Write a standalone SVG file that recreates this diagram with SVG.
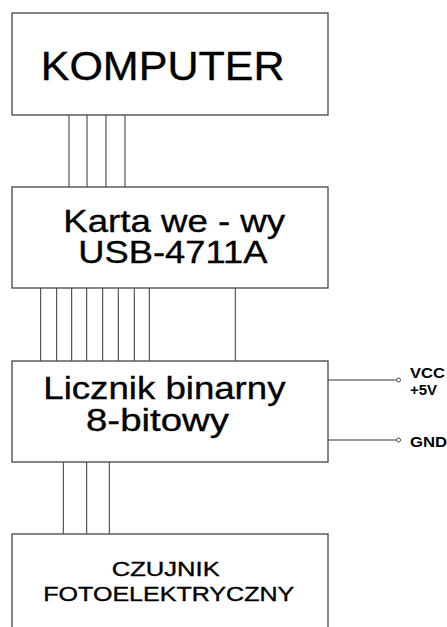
<svg xmlns="http://www.w3.org/2000/svg" width="447" height="627" viewBox="0 0 447 627">
<style>
.box{fill:#fff;stroke:#444;stroke-width:1.3}
.w{stroke:#333;stroke-width:1;fill:none}
.t{font-family:"Liberation Sans",Arial,sans-serif;fill:#000;stroke:#000;stroke-width:0.35}
.s{font-family:"Liberation Sans",Arial,sans-serif;fill:#000;font-weight:bold}
.pin{fill:#fff;stroke:#333;stroke-width:0.9}
</style>
<rect width="447" height="627" fill="#fff"/>
<g id="connectors">
<path class="w" d="M69,115V187M87,115V187M106,115V187M125,115V187"/>
<path class="w" d="M40.7,288V361M56.7,288V361M71.7,288V361M86.7,288V361M102.7,288V361M118.3,288V361M134.3,288V361M149.3,288V361M235.3,288V361"/>
<path class="w" d="M63.3,462V534M86.7,462V534M109.3,462V534"/>
<path class="w" d="M328,380H396.5M328,440H396.5"/>
<circle class="pin" cx="398.5" cy="380" r="2"/>
<circle class="pin" cx="398.5" cy="440" r="2"/>
</g>
<g id="komputer">
<rect class="box" x="12" y="13" width="316" height="102"/>
<text class="t" font-size="40" transform="translate(40.7,80) scale(1.076,1)">KOMPUTER</text>
</g>
<g id="karta">
<rect class="box" x="12" y="187" width="316" height="101"/>
<text class="t" font-size="32" transform="translate(63.3,232.3) scale(1.145,1)">Karta we - wy</text>
<text class="t" font-size="32" transform="translate(78.3,263.3) scale(1.136,1)">USB-4711A</text>
</g>
<g id="licznik">
<rect class="box" x="12" y="361" width="316" height="101"/>
<text class="t" font-size="32" transform="translate(43.3,399.3) scale(1.145,1)">Licznik binarny</text>
<text class="t" font-size="32" transform="translate(86,430.7) scale(1.2,1)">8-bitowy</text>
</g>
<g id="czujnik">
<rect class="box" x="12" y="534" width="316" height="110"/>
<text class="t" font-size="20" stroke-width="0.25" transform="translate(111.7,576) scale(1.28,1)">CZUJNIK</text>
<text class="t" font-size="20" stroke-width="0.25" transform="translate(43.3,600.7) scale(1.253,1)">FOTOELEKTRYCZNY</text>
</g>
<g id="vcc">
<text class="s" font-size="14" transform="translate(410,378) scale(1.18,1)">VCC</text>
<text class="s" font-size="14" transform="translate(410,395) scale(1.07,1)">+5V</text>
</g>
<g id="gnd">
<text class="s" font-size="14" transform="translate(410,447) scale(1.19,1)">GND</text>
</g>
</svg>
